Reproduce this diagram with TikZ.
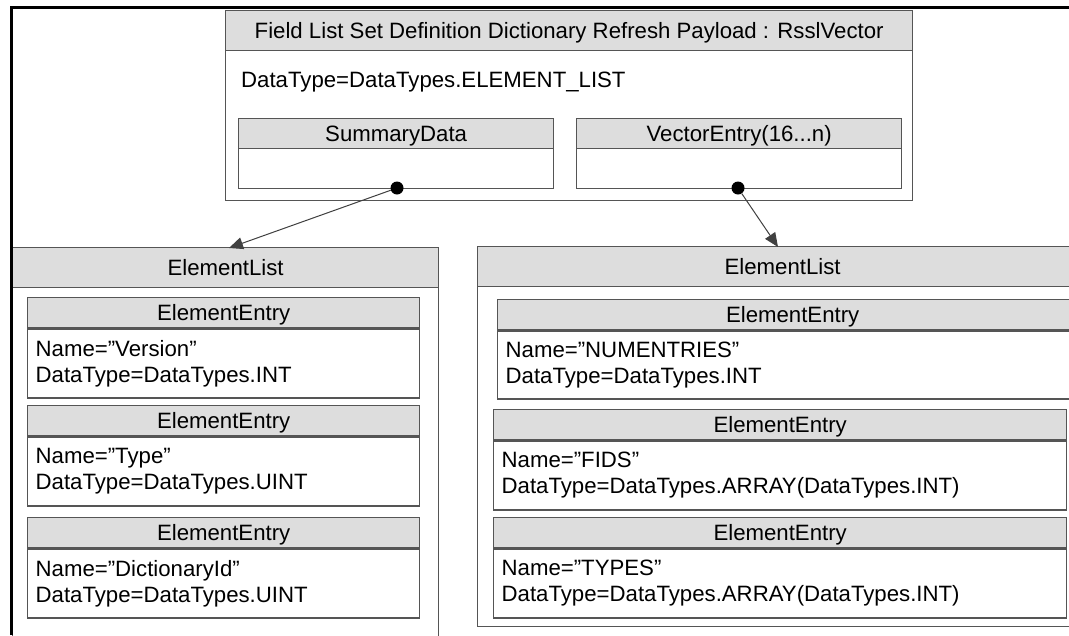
\documentclass[tikz,border=0pt]{standalone}
\usepackage{fontspec}
\setmainfont{Liberation Sans}
\usetikzlibrary{arrows.meta}

\definecolor{hdrfill}{RGB}{221,221,221}
\definecolor{boxline}{RGB}{85,85,85}

\begin{document}
\begin{tikzpicture}[x=1pt, y=-1pt, >={Triangle[length=14pt,width=12pt]},
    every node/.style={font=\fontsize{22.2}{26}\selectfont},
    frame/.style={draw=boxline, line width=1.3pt, fill=white, anchor=north west, inner sep=0pt},
    hdr/.style={frame, fill=hdrfill, text height=15.9pt, text depth=0pt},
    body/.style={frame, align=left, inner xsep=8pt},
    dot/.style={circle, fill=black, inner sep=0pt, minimum size=13pt},
    link/.style={->, draw=black!75, line width=1pt}]
    \useasboundingbox (0,0) rectangle (1069,635);
    \clip (0,0) rectangle (1069,635);

    % Vector payload
    \node[frame, minimum width=687pt, minimum height=190pt] (vec) at (225,10) {};
    \node[hdr, minimum width=687pt, minimum height=40pt] (vechdr) at (225,10) {Field List Set Definition Dictionary Refresh Payload : RsslVector};
    \node[anchor=base west, inner sep=0pt] (vectype) at (241,87) {DataType=DataTypes.ELEMENT\_LIST};
    \node[frame, minimum width=315pt, minimum height=70pt] (sum) at (238,118) {};
    \node[hdr, minimum width=315pt, minimum height=30pt] (sumhdr) at (238,118) {SummaryData};
    \node[frame, minimum width=325pt, minimum height=70pt] (ent) at (576,118) {};
    \node[hdr, minimum width=325pt, minimum height=30pt] (enthdr) at (576,118) {VectorEntry(16...n)};

    % Left element list
    \node[frame, minimum width=426pt, minimum height=400pt] (llist) at (12,247) {};
    \node[hdr, minimum width=426pt, minimum height=40pt] (llisthdr) at (12,247) {ElementList};
    \node[hdr, minimum width=392pt, minimum height=30pt] (le1hdr) at (27,297) {ElementEntry};
    \node[body, text width=376pt, minimum height=69pt] (le1) at (le1hdr.south west) {Name=”Version”\\DataType=DataTypes.INT};
    \node[hdr, minimum width=392pt, minimum height=30pt] (le2hdr) at (27,405) {ElementEntry};
    \node[body, text width=376pt, minimum height=69pt] (le2) at (le2hdr.south west) {Name=”Type”\\DataType=DataTypes.UINT};
    \node[hdr, minimum width=392pt, minimum height=30pt] (le3hdr) at (27,517) {ElementEntry};
    \node[body, text width=376pt, minimum height=69pt] (le3) at (le3hdr.south west) {Name=”DictionaryId”\\DataType=DataTypes.UINT};

    % Right element list
    \node[frame, minimum width=610pt, minimum height=380pt] (rlist) at (477,246) {};
    \node[hdr, minimum width=610pt, minimum height=40pt] (rlisthdr) at (477,246) {ElementList};
    \node[hdr, minimum width=590pt, minimum height=30pt] (re1hdr) at (497,299) {ElementEntry};
    \node[body, text width=574pt, minimum height=68pt] (re1) at (re1hdr.south west) {Name=”NUMENTRIES”\\DataType=DataTypes.INT};
    \node[hdr, minimum width=573pt, minimum height=30pt] (re2hdr) at (493,409) {ElementEntry};
    \node[body, text width=557pt, minimum height=69pt] (re2) at (re2hdr.south west) {Name=”FIDS”\\DataType=DataTypes.ARRAY(DataTypes.INT)};
    \node[hdr, minimum width=573pt, minimum height=30pt] (re3hdr) at (493,517) {ElementEntry};
    \node[body, text width=557pt, minimum height=69pt] (re3) at (re3hdr.south west) {Name=”TYPES”\\DataType=DataTypes.ARRAY(DataTypes.INT)};

    % Links
    \node[dot] (sumdot) at (397,188) {};
    \node[dot] (entdot) at (738,188) {};
    \coordinate (lin) at (229,248);
    \coordinate (rin) at (778,247);
    \draw[link] (sumdot) -- (lin);
    \draw[link] (entdot) -- (rin);

    % Page frame
    \draw[line width=3pt] (11,635) -- (11,7) -- (1069,7);
\end{tikzpicture}
\end{document}
